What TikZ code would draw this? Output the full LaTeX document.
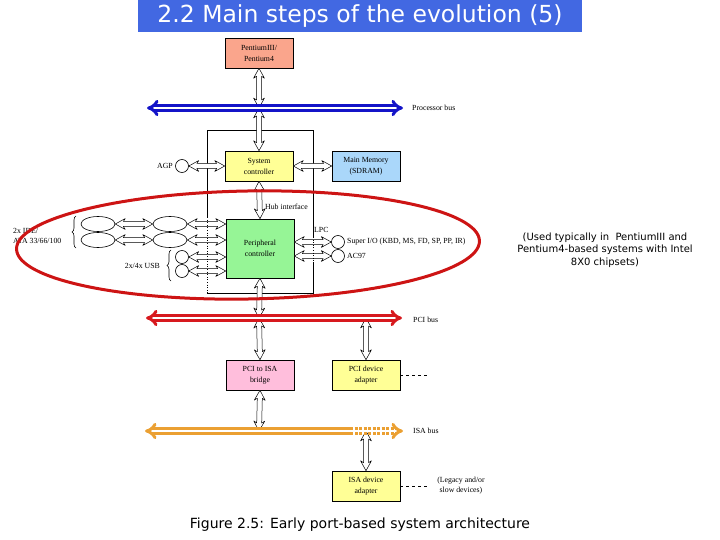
\documentclass[tikz,border=0pt]{standalone}
\usepackage{fontspec}
\setmainfont{Liberation Serif}
\newfontfamily\vfont{DejaVu Sans}
\usetikzlibrary{arrows.meta,shapes.geometric,decorations.pathreplacing,calc}
\definecolor{titleblue}{RGB}{66,104,226}
\definecolor{salmonc}{RGB}{250,165,140}
\definecolor{yellowc}{RGB}{255,255,150}
\definecolor{bluec}{RGB}{170,215,250}
\definecolor{greenc}{RGB}{150,245,150}
\definecolor{pinkc}{RGB}{255,190,220}
\definecolor{busblue}{RGB}{20,20,200}
\definecolor{busred}{RGB}{215,25,30}
\definecolor{busorange}{RGB}{235,160,50}
\definecolor{ringred}{RGB}{205,20,20}
\begin{document}
\begin{tikzpicture}[x=1pt,y=-1pt,
 box/.style={draw, line width=0.6pt, minimum width=68pt, minimum height=30pt, inner sep=1pt, align=center, font=\fontsize{7.8}{11}\selectfont},
 lbl/.style={inner sep=0pt, font=\fontsize{7.8}{10}\selectfont},
 conn/.style={draw, fill=white, line width=0.5pt, line join=round, to path={
  -- ($(\tikztostart)!10pt!(\tikztotarget)!5.5pt!90:(\tikztotarget)$)
  -- ($(\tikztostart)!8pt!(\tikztotarget)!2.5pt!90:(\tikztotarget)$)
  -- ($(\tikztotarget)!8pt!(\tikztostart)!2.5pt!-90:(\tikztostart)$)
  -- ($(\tikztotarget)!10pt!(\tikztostart)!5.5pt!-90:(\tikztostart)$)
  -- (\tikztotarget)
  -- ($(\tikztotarget)!10pt!(\tikztostart)!5.5pt!90:(\tikztostart)$)
  -- ($(\tikztotarget)!8pt!(\tikztostart)!2.5pt!90:(\tikztostart)$)
  -- ($(\tikztostart)!8pt!(\tikztotarget)!2.5pt!-90:(\tikztotarget)$)
  -- ($(\tikztostart)!10pt!(\tikztotarget)!5.5pt!-90:(\tikztotarget)$)
  -- cycle}},
 bus/.style={double=white, double distance=2pt, line width=3pt, {Implies}-{Implies}},
 port/.style={circle, draw, line width=0.6pt, minimum size=13pt, inner sep=0pt},
 drive/.style={ellipse, draw, line width=0.6pt, minimum width=34pt, minimum height=15pt, inner sep=0pt},
 frame/.style={line width=0.6pt},
]
\useasboundingbox (0,0) rectangle (720,540);
% title
\node[fill=titleblue, minimum width=444pt, minimum height=32pt, inner sep=0pt, text=white, font=\vfont\fontsize{23.5}{26}\selectfont] (title) at (360,16) {2.2 Main steps of the evolution (5)};

% chipset frame (solid parts)
\draw[frame] (207,217) -- (207,130) -- (313,130) -- (313,237);
\draw[frame] (207,293) -- (313,293) -- (313,262);

% boxes
\node[box, fill=salmonc] (pent) at (259,53) {PentiumIII/\\Pentium4};
\node[box, fill=yellowc] (sys) at (259,166) {System\\controller};
\node[box, fill=bluec] (mem) at (366,166) {Main Memory\\(SDRAM)};
\node[box, fill=greenc, minimum height=59pt] (per) at (260,248.5) {Peripheral\\controller};
\node[box, fill=pinkc] (bridge) at (260,375) {PCI to ISA\\bridge};
\node[box, fill=yellowc] (pcidev) at (366,375) {PCI device\\adapter};
\node[box, fill=yellowc] (isadev) at (366,486) {ISA device\\adapter};

% ports and drives
\node[port] (agp) at (182,166) {};
\node[port] (usb1) at (182,257) {};
\node[port] (usb2) at (182,271) {};
\node[port] (sio) at (338,242) {};
\node[port] (ac97) at (338,256) {};
\node[drive] (ide11) at (98,224) {};
\node[drive] (ide12) at (170,224) {};
\node[drive] (ide21) at (98,240) {};
\node[drive] (ide22) at (170,240) {};

% attachment points
\coordinate (pb) at (259,108);
\coordinate (pcib) at (259,318);
\coordinate (pcib2) at (366,318);
\coordinate (isab) at (259,431);
\coordinate (isab2) at (366,431);
\coordinate (pi1) at (ide12.east -| per.west);
\coordinate (pi2) at (ide22.east -| per.west);
\coordinate (pu1) at (usb1.east -| per.west);
\coordinate (pu2) at (usb2.east -| per.west);
\coordinate (ps1) at (sio.west -| per.east);
\coordinate (ps2) at (ac97.west -| per.east);

% connectors
\draw[conn] (pent.south) to (pb);
\draw[conn] (pb) to (sys.north);
\draw[conn] (agp.east) to (sys.west);
\draw[conn] (sys.east) to (mem.west);
\draw[conn] (sys.south) to (per.north);
\draw[conn] (ide11.east) to (ide12.west);
\draw[conn] (ide21.east) to (ide22.west);
\draw[conn] (ide12.east) to (pi1);
\draw[conn] (ide22.east) to (pi2);
\draw[conn] (usb1.east) to (pu1);
\draw[conn] (usb2.east) to (pu2);
\draw[conn] (ps1) to (sio.west);
\draw[conn] (ps2) to (ac97.west);
\draw[conn] (per.south) to (pcib);
\draw[conn] (pcib) to (bridge.north);
\draw[conn] (pcib2) to (pcidev.north);
\draw[conn] (bridge.south) to (isab);
\draw[conn] (isab2) to (isadev.north);

% chipset frame (dotted parts)
\draw[frame, dotted] (207,217) -- (207,293);
\draw[frame, dotted] (313,237) -- (313,262);

% buses
\coordinate (pbl) at (147,108); \coordinate (pbr) at (403,108);
\coordinate (pcil) at (146,318); \coordinate (pcir) at (402,318);
\coordinate (isal) at (145,431); \coordinate (isam) at (350,431); \coordinate (isar) at (403,431);
\draw[bus, draw=busblue] (pbl) -- (pbr);
\draw[bus, draw=busred] (pcil) -- (pcir);
\draw[double=white, double distance=2pt, line width=3pt, draw=busorange, {Implies}-] (isal) -- (isam);
\draw[double=white, double distance=2pt, line width=3pt, draw=busorange, dash pattern=on 3pt off 1.5pt, -{Implies}] (isam) -- (isar);

% dashed continuations
\coordinate (pcid) at (428,375);
\coordinate (isad) at (428,486);
\draw[dashed, line width=0.6pt] (pcidev.east) -- (pcid);
\draw[dashed, line width=0.6pt] (isadev.east) -- (isad);

% braces
\draw[decorate, decoration={brace, amplitude=4pt}, line width=0.6pt] (76,248) -- (76,216);
\draw[decorate, decoration={brace, amplitude=4pt}, line width=0.6pt] (171,281) -- (171,250);

% labels
\node[lbl, anchor=west] (pbuslbl) at (412,108) {Processor bus};
\node[lbl, anchor=west] (pcilbl) at (413,320) {PCI bus};
\node[lbl, anchor=west] (isalbl) at (413,431) {ISA bus};
\node[lbl, anchor=east] (agplbl) at (173,166) {AGP};
\node[lbl, anchor=west] (hublbl) at (265,207) {Hub interface};
\node[lbl, anchor=west] (lpclbl) at (314,230) {LPC};
\node[lbl, anchor=west] (siolbl) at (347,242) {Super I/O (KBD, MS, FD, SP, PP, IR)};
\node[lbl, anchor=west] (ac97lbl) at (347,256) {AC97};
\node[lbl, anchor=east] (usblbl) at (160,266) {2x/4x USB};
\node[lbl, anchor=west, align=left] (idelbl) at (13,236) {2x IDE/\\ATA 33/66/100};
\node[lbl, align=center] (legacy) at (461,486) {(Legacy and/or\\slow devices)};
\node[inner sep=0pt, align=center, font=\vfont\fontsize{10}{12.5}\selectfont] (note) at (605,250) {(Used typically in\ \ PentiumIII and\\Pentium4-based systems with Intel\\8X0 chipsets)};
\node[inner sep=0pt, font=\vfont\fontsize{14}{16}\selectfont] (caption) at (360,525) {Figure 2.5: Early port-based system architecture};

% red highlight ellipse
\draw[ringred, line width=3pt, rotate around={1:(248,245)}] (248,245) ellipse [x radius=231.5pt, y radius=54pt];
\end{tikzpicture}
\end{document}
